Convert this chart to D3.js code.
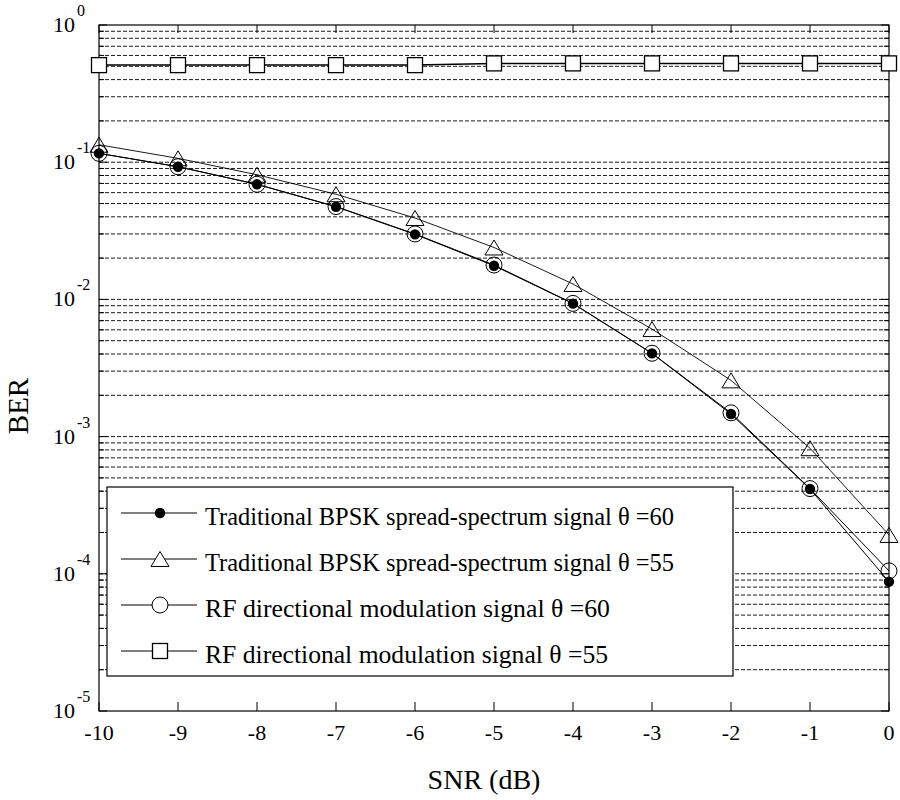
<!DOCTYPE html>
<html>
<head>
<meta charset="utf-8">
<script src="https://cdn.jsdelivr.net/npm/d3@7"></script>
<style>
html,body{margin:0;padding:0;background:#fff;}
svg{display:block;font-family:"Liberation Serif","Times New Roman",serif;}
</style>
</head>
<body>
<svg id="chart" width="900" height="800"></svg>
<script>
// ---- data ----
const snr = [-10, -9, -8, -7, -6, -5, -4, -3, -2, -1, 0];
const tradBpsk60 = [0.116, 0.0927, 0.069, 0.0473, 0.0298, 0.0176, 0.00932, 0.00404, 0.00146, 0.000415, 0.0000876];
const tradBpsk55 = [0.134, 0.1067, 0.081, 0.0584, 0.0392, 0.0239, 0.01295, 0.00608, 0.00257, 0.000823, 0.000192];
const rfDm60 = [0.116, 0.0927, 0.069, 0.0475, 0.0300, 0.0178, 0.00935, 0.00405, 0.00149, 0.000418, 0.000105];
const rfDm55 = [0.51, 0.51, 0.51, 0.51, 0.51, 0.525, 0.525, 0.525, 0.525, 0.525, 0.525];
const seriesNames = [
  "Traditional BPSK spread-spectrum signal \u03b8 =60",
  "Traditional BPSK spread-spectrum signal \u03b8 =55",
  "RF directional modulation signal \u03b8 =60",
  "RF directional modulation signal \u03b8 =55"
];
const xTickValues = [-10, -9, -8, -7, -6, -5, -4, -3, -2, -1, 0];
const yTickExponents = [0, -1, -2, -3, -4, -5];
const xTitle = "SNR (dB)";
const yTitle = "BER";

// ---- layout ----
const L = 99, R = 889, T = 25, B = 711;
const svg = d3.select("#chart");
const x = d3.scaleLinear().domain([-10, 0]).range([L, R]);
const y = d3.scaleLog().domain([1e-5, 1]).range([B, T]);

// grid values (minor + major, inside)
const gridVals = [];
const minorVals = [];
for (let e = -5; e < 0; e++) {
  for (let m = 1; m <= 9; m++) {
    const v = m * Math.pow(10, e);
    if (v > 1e-5 * 1.0001) gridVals.push(v);
    if (m > 1) minorVals.push(v);
  }
}

const grid = svg.append("g");
grid.selectAll("line").data(gridVals).join("line")
  .attr("x1", L).attr("x2", R)
  .attr("y1", d => y(d)).attr("y2", d => y(d))
  .attr("stroke", "#000").attr("stroke-width", 0.9)
  .attr("stroke-dasharray", "4,2");

// axes box
svg.append("rect").attr("x", L).attr("y", T).attr("width", R - L).attr("height", B - T)
  .attr("fill", "none").attr("stroke", "#000").attr("stroke-width", 1.2);

// x ticks (bottom and top, inward)
const ticks = svg.append("g").attr("stroke", "#000").attr("stroke-width", 1);
xTickValues.forEach(v => {
  ticks.append("line").attr("x1", x(v)).attr("x2", x(v)).attr("y1", B).attr("y2", B - 9);
  ticks.append("line").attr("x1", x(v)).attr("x2", x(v)).attr("y1", T).attr("y2", T + 8);
});
// y ticks major and minor, left and right
yTickExponents.forEach(e => {
  const yy = y(Math.pow(10, e));
  ticks.append("line").attr("x1", L).attr("x2", L + 8).attr("y1", yy).attr("y2", yy);
  ticks.append("line").attr("x1", R).attr("x2", R - 8).attr("y1", yy).attr("y2", yy);
});
minorVals.forEach(v => {
  const yy = y(v);
  ticks.append("line").attr("x1", L).attr("x2", L + 5).attr("y1", yy).attr("y2", yy);
  ticks.append("line").attr("x1", R).attr("x2", R - 5).attr("y1", yy).attr("y2", yy);
});

// x tick labels
svg.append("g").selectAll("text").data(xTickValues).join("text")
  .attr("x", d => x(d)).attr("y", 740)
  .attr("text-anchor", "middle").attr("font-size", 22)
  .text(d => String(d));

// y tick labels 10^e
const yl = svg.append("g");
yTickExponents.forEach(e => {
  const yy = y(Math.pow(10, e));
  yl.append("text").attr("x", 75).attr("y", yy + 7).attr("text-anchor", "end")
    .attr("font-size", 22).text("10");
  yl.append("text").attr("x", 77).attr("y", yy - 9).attr("text-anchor", "start")
    .attr("font-size", 16).text(String(e));
});

// axis titles
svg.append("text").attr("x", 484).attr("y", 789).attr("text-anchor", "middle")
  .attr("font-size", 28).text(xTitle);
svg.append("text").attr("transform", "translate(28,406) rotate(-90)")
  .attr("text-anchor", "middle").attr("font-size", 29).text(yTitle);

// series
const series = [
  {vals: tradBpsk60, marker: "dot", w: 1},
  {vals: tradBpsk55, marker: "tri", w: 0.9},
  {vals: rfDm60, marker: "circ", w: 1},
  {vals: rfDm55, marker: "sq", w: 1.5}
];
const line = d3.line().x(d => x(d[0])).y(d => y(d[1]));

function drawMarker(g, type, cx, cy, fillOpen) {
  if (type === "dot") {
    g.append("circle").attr("cx", cx).attr("cy", cy).attr("r", 5.2).attr("fill", "#000");
  } else if (type === "circ") {
    g.append("circle").attr("cx", cx).attr("cy", cy).attr("r", 8)
      .attr("fill", fillOpen).attr("stroke", "#000").attr("stroke-width", 1);
  } else if (type === "tri") {
    const w = 18, h = 15;
    g.append("path")
      .attr("d", `M${cx},${cy - h / 2}L${cx + w / 2},${cy + h / 2}L${cx - w / 2},${cy + h / 2}Z`)
      .attr("fill", fillOpen).attr("stroke", "#000").attr("stroke-width", 1);
  } else if (type === "sq") {
    const s = 15;
    g.append("rect").attr("x", cx - s / 2).attr("y", cy - s / 2).attr("width", s).attr("height", s)
      .attr("fill", "#fff").attr("stroke", "#000").attr("stroke-width", 1.3);
  }
}

const sg = svg.append("g");
series.forEach(s => {
  const pts = snr.map((v, i) => [v, s.vals[i]]);
  sg.append("path").attr("d", line(pts)).attr("fill", "none")
    .attr("stroke", "#000").attr("stroke-width", s.w);
});
// markers: open ones first, then filled dots on top
[3, 1, 2, 0].forEach(k => {
  const s = series[k];
  const mg = sg.append("g");
  snr.forEach((v, i) => drawMarker(mg, s.marker, x(v), y(s.vals[i]), "none"));
});

// legend
const lg = svg.append("g");
lg.append("rect").attr("x", 107).attr("y", 487).attr("width", 626).attr("height", 189)
  .attr("fill", "#fff").attr("stroke", "#000").attr("stroke-width", 1.2);
const rowY = [513, 559, 605, 651];
const textLen = [469, 469, 405, 403];
series.forEach((s, k) => {
  const yy = rowY[k];
  lg.append("line").attr("x1", 121).attr("x2", 197).attr("y1", yy).attr("y2", yy)
    .attr("stroke", "#000").attr("stroke-width", 1);
  drawMarker(lg, s.marker, 160, yy, "#fff");
  lg.append("text").attr("x", 205).attr("y", yy + 12).attr("font-size", 25)
    .attr("textLength", textLen[k]).attr("lengthAdjust", "spacingAndGlyphs")
    .text(seriesNames[k]);
});
</script>
</body>
</html>
